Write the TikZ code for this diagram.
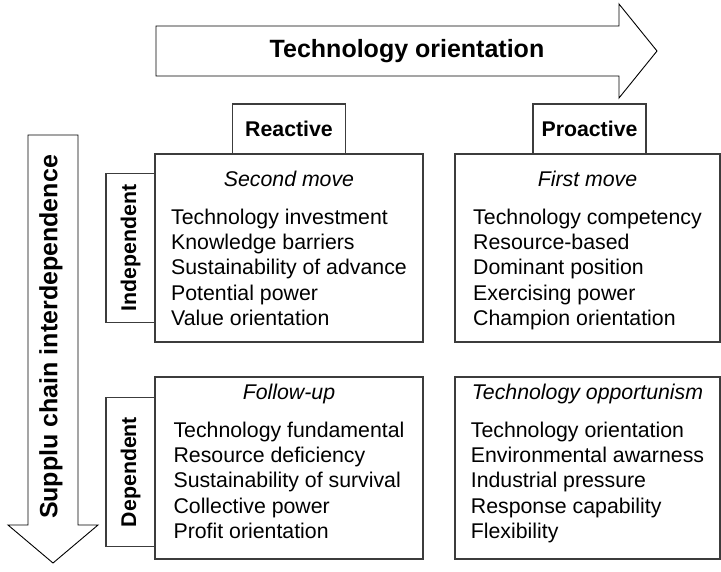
\documentclass[tikz,border=0pt]{standalone}
\usepackage{fontspec}
\setmainfont{Liberation Sans}
\usetikzlibrary{positioning}
\definecolor{boxgray}{RGB}{60,60,60}

\begin{document}
\begin{tikzpicture}[x=1pt, y=-1pt, node distance=0pt,
  every node/.style={font=\fontsize{21.3}{25.2}\selectfont, inner sep=0pt, outer sep=0pt},
  quad/.style={draw=boxgray, line width=1.2pt},
  quadtext/.style={align=center},
  tag/.style={draw=boxgray, line width=1.2pt, fill=white, font=\fontsize{21.3}{25.2}\selectfont\bfseries},
  bigarrow/.style={draw=black, line width=0.9pt, line join=miter},
  arrowtext/.style={font=\fontsize{25}{29}\selectfont\bfseries}]
  \useasboundingbox (0,0) rectangle (721,571);

  % block arrows
  \draw[bigarrow] (156,26) -- (619,26) -- (619,4) -- (657,51) -- (619,98) -- (619,76) -- (156,76) -- cycle;
  \node[arrowtext] (techor) at (407,51) {Technology orientation};
  \draw[bigarrow] (28,135) -- (78,135) -- (78,525) -- (98,525) -- (53,563) -- (8,525) -- (28,525) -- cycle;
  \node[arrowtext, rotate=90] (chain) at (51,337) {Supplu chain interdependence};

  % quadrants
  \node[quad, minimum width=268pt, minimum height=188pt] (tl) at (289,248) {};
  \node[quad, minimum width=265pt, minimum height=188pt, right=32pt of tl] (tr) {};
  \node[quad, minimum width=268pt, minimum height=182pt, below=35pt of tl] (bl) {};
  \node[quad, minimum width=265pt, minimum height=182pt, below=35pt of tr] (br) {};

  % axis tags
  \node[tag, minimum width=113pt, minimum height=50pt, above=of tl] (reac) {Reactive};
  \node[tag, minimum width=113pt, minimum height=50pt, above=of tr, xshift=2pt] (proac) {Proactive};
  \node[tag, minimum width=49pt, minimum height=149pt, left=of tl] (indep) {\rotatebox{90}{Independent}};
  \node[tag, minimum width=49pt, minimum height=149pt, left=of bl, yshift=-4pt] (dep) {\rotatebox{90}{Dependent}};

  % quadrant contents
  \node[quadtext, below=17pt of tl.north] (tltext) {\textit{Second move}\\[12.8pt]
    \begin{tabular}[t]{@{}l@{}}Technology investment\\Knowledge barriers\\Sustainability of advance\\Potential power\\Value orientation\end{tabular}};
  \node[quadtext, below=17pt of tr.north] (trtext) {\textit{First move}\\[12.8pt]
    \begin{tabular}[t]{@{}l@{}}Technology competency\\Resource-based\\Dominant position\\Exercising power\\Champion orientation\end{tabular}};
  \node[quadtext, below=7pt of bl.north] (bltext) {\textit{Follow-up}\\[12.8pt]
    \begin{tabular}[t]{@{}l@{}}Technology fundamental\\Resource deficiency\\Sustainability of survival\\Collective power\\Profit orientation\end{tabular}};
  \node[quadtext, below=7pt of br.north] (brtext) {\textit{Technology opportunism}\\[12.8pt]
    \begin{tabular}[t]{@{}l@{}}Technology orientation\\Environmental awarness\\Industrial pressure\\Response capability\\Flexibility\end{tabular}};
\end{tikzpicture}
\end{document}
